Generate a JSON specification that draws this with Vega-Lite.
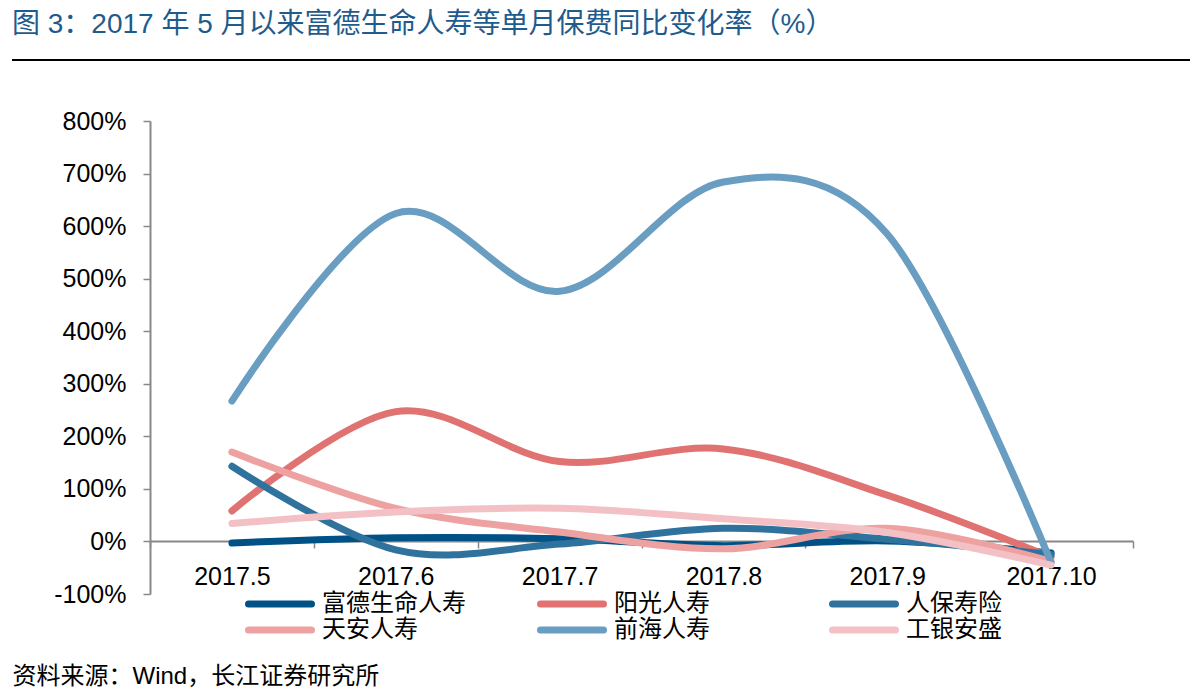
{
  "$schema": "https://vega.github.io/schema/vega-lite/v6.json",
  "width": 1178,
  "height": 473,
  "autosize": {"type": "none"},
  "padding": {"left": 12, "top": 121, "right": 11, "bottom": 103},
  "background": "white",
  "title": {
    "text": "图 3：2017 年 5 月以来富德生命人寿等单月保费同比变化率（%）",
    "anchor": "start",
    "frame": "group",
    "offset": 20,
    "fontSize": 28,
    "font": "Liberation Sans, Noto Sans CJK SC",
    "fontWeight": "normal",
    "color": "#1f5b8c"
  },
  "config": {"view": {"stroke": null}, "font": "Liberation Sans"},
  "data": {
    "values": [
      {"month": "2017.5", "series": "富德生命人寿", "value": -3},
      {"month": "2017.6", "series": "富德生命人寿", "value": 7},
      {"month": "2017.7", "series": "富德生命人寿", "value": 5},
      {"month": "2017.8", "series": "富德生命人寿", "value": -8},
      {"month": "2017.9", "series": "富德生命人寿", "value": 1},
      {"month": "2017.10", "series": "富德生命人寿", "value": -22},
      {"month": "2017.5", "series": "阳光人寿", "value": 58},
      {"month": "2017.6", "series": "阳光人寿", "value": 247},
      {"month": "2017.7", "series": "阳光人寿", "value": 152},
      {"month": "2017.8", "series": "阳光人寿", "value": 176},
      {"month": "2017.9", "series": "阳光人寿", "value": 88},
      {"month": "2017.10", "series": "阳光人寿", "value": -30},
      {"month": "2017.5", "series": "人保寿险", "value": 143},
      {"month": "2017.6", "series": "人保寿险", "value": -16},
      {"month": "2017.7", "series": "人保寿险", "value": -5},
      {"month": "2017.8", "series": "人保寿险", "value": 25},
      {"month": "2017.9", "series": "人保寿险", "value": 4},
      {"month": "2017.10", "series": "人保寿险", "value": -25},
      {"month": "2017.5", "series": "天安人寿", "value": 170},
      {"month": "2017.6", "series": "天安人寿", "value": 63},
      {"month": "2017.7", "series": "天安人寿", "value": 18},
      {"month": "2017.8", "series": "天安人寿", "value": -14},
      {"month": "2017.9", "series": "天安人寿", "value": 25},
      {"month": "2017.10", "series": "天安人寿", "value": -38},
      {"month": "2017.5", "series": "前海人寿", "value": 267},
      {"month": "2017.6", "series": "前海人寿", "value": 624},
      {"month": "2017.7", "series": "前海人寿", "value": 476},
      {"month": "2017.8", "series": "前海人寿", "value": 684},
      {"month": "2017.9", "series": "前海人寿", "value": 585},
      {"month": "2017.10", "series": "前海人寿", "value": -40},
      {"month": "2017.5", "series": "工银安盛", "value": 34},
      {"month": "2017.6", "series": "工银安盛", "value": 56},
      {"month": "2017.7", "series": "工银安盛", "value": 63},
      {"month": "2017.8", "series": "工银安盛", "value": 43},
      {"month": "2017.9", "series": "工银安盛", "value": 17},
      {"month": "2017.10", "series": "工银安盛", "value": -45}
    ]
  },
  "layer": [
    {
      "mark": {"type": "line", "interpolate": "cardinal", "strokeWidth": 7, "strokeCap": "round", "strokeJoin": "round"},
      "encoding": {
        "x": {
          "field": "month",
          "type": "ordinal",
          "sort": ["2017.5", "2017.6", "2017.7", "2017.8", "2017.9", "2017.10"],
          "bandPosition": 0.5,
          "scale": {"type": "band", "range": [138, 1121], "paddingInner": 0, "paddingOuter": 0},
          "axis": {
            "title": "资料来源：Wind，长江证券研究所",
            "titleX": 0,
            "titleY": 135,
            "titleAlign": "left",
            "titleBaseline": "middle",
            "titleFontSize": 24,
            "titleFont": "Liberation Sans, Noto Sans CJK SC",
            "titleFontWeight": "normal",
            "titleColor": "black",
            "offset": -53,
            "tickBand": "extent",
            "domainColor": "#888888",
            "domainWidth": 2,
            "tickColor": "#888888",
            "tickWidth": 1.5,
            "tickSize": 7,
            "labelFontSize": 25,
            "labelColor": "black",
            "labelPadding": 16,
            "labelAngle": 0,
            "labelFont": "Liberation Sans",
            "grid": false
          }
        },
        "y": {
          "field": "value",
          "type": "quantitative",
          "scale": {"domain": [-100, 800], "nice": false, "zero": false},
          "axis": {
            "title": null,
            "offset": -138,
            "values": [-100, 0, 100, 200, 300, 400, 500, 600, 700, 800],
            "labelExpr": "datum.value + '%'",
            "domainColor": "#888888",
            "domainWidth": 2,
            "tickColor": "#888888",
            "tickWidth": 1.5,
            "tickSize": 7,
            "labelFontSize": 25,
            "labelColor": "black",
            "labelPadding": 17,
            "labelFont": "Liberation Sans",
            "grid": false
          }
        },
        "color": {
          "field": "series",
          "type": "nominal",
          "scale": {
            "domain": ["富德生命人寿", "阳光人寿", "人保寿险", "天安人寿", "前海人寿", "工银安盛"],
            "range": ["#005286", "#e07272", "#30729e", "#eda1a0", "#699dc1", "#f3c1c5"]
          },
          "legend": {
            "title": null,
            "orient": "none",
            "legendX": 233,
            "legendY": 470,
            "direction": "horizontal",
            "columns": 3,
            "symbolType": "stroke",
            "symbolSize": 3969,
            "symbolStrokeWidth": 7,
            "clipHeight": 26,
            "labelFontSize": 24,
            "labelFont": "Noto Sans CJK SC",
            "labelColor": "black",
            "labelOffset": 7,
            "labelLimit": 300,
            "columnPadding": 71,
            "rowPadding": 0,
            "gridAlign": "all",
            "padding": 0,
            "encode": {"symbols": {"update": {"strokeCap": {"value": "round"}}}}
          }
        }
      }
    },
    {
      "data": {"values": [{}]},
      "mark": {"type": "rule", "color": "black", "strokeWidth": 2},
      "encoding": {
        "y": {
          "datum": 916,
          "type": "quantitative",
          "axis": {
            "title": null,
            "offset": -138,
            "values": [-100, 0, 100, 200, 300, 400, 500, 600, 700, 800],
            "labelExpr": "datum.value + '%'",
            "domainColor": "#888888",
            "domainWidth": 2,
            "tickColor": "#888888",
            "tickWidth": 1.5,
            "tickSize": 7,
            "labelFontSize": 25,
            "labelColor": "black",
            "labelPadding": 17,
            "labelFont": "Liberation Sans",
            "grid": false
          }
        }
      }
    }
  ]
}
